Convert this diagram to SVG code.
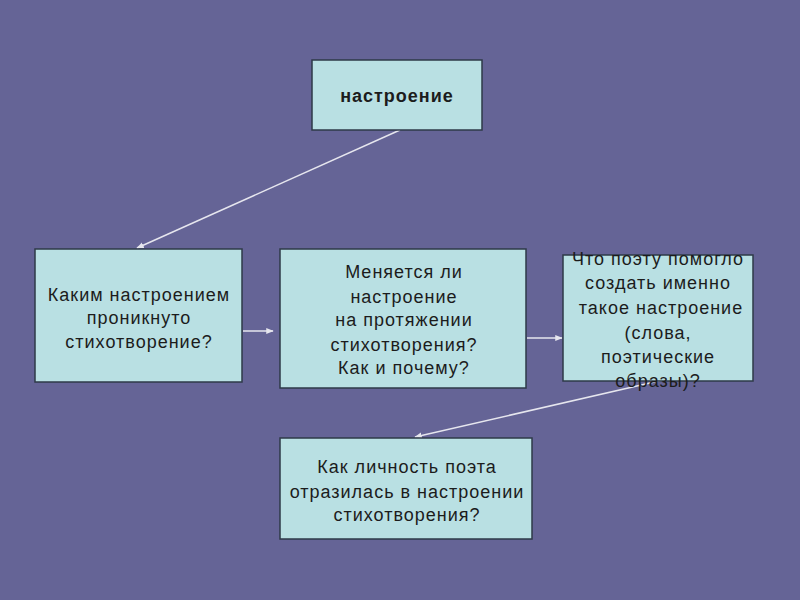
<svg xmlns="http://www.w3.org/2000/svg" width="800" height="600" viewBox="0 0 800 600">
<defs>
<style>
.box{fill:#b9e0e3;stroke:#2e3a48;stroke-width:1.5}
.t{font-family:"Liberation Sans",Arial,sans-serif;font-size:18px;letter-spacing:1px;fill:#1c1c1c;text-anchor:middle;dominant-baseline:central}
.b{font-weight:bold}
.c{stroke:#e6e6ee;stroke-width:1.5;fill:none;marker-end:url(#ah)}
</style>
<marker id="ah" viewBox="0 0 10 10" refX="9" refY="5" markerWidth="5" markerHeight="5" orient="auto" markerUnits="strokeWidth">
<path d="M0,1 L10,5 L0,9 z" fill="#e6e6ee"/>
</marker>
</defs>
<rect width="800" height="600" fill="#656496"/>
<g id="connectors">
<line class="c" x1="400" y1="130" x2="137" y2="248"/>
<line class="c" x1="243" y1="331" x2="273" y2="331"/>
<line class="c" x1="527" y1="338" x2="562" y2="338"/>
<line class="c" x1="663" y1="380" x2="415" y2="437"/>
</g>
<g id="n1">
<rect class="box" x="312" y="60" width="170" height="70"/>
<text class="t b" x="397" y="96">настроение</text>
</g>
<g id="n2">
<rect class="box" x="35" y="249" width="207" height="133"/>
<text class="t" x="139" y="295">Каким настроением</text>
<text class="t" x="139" y="318">проникнуто</text>
<text class="t" x="139" y="342">стихотворение?</text>
</g>
<g id="n3">
<rect class="box" x="280" y="249" width="246" height="139"/>
<text class="t" x="404" y="272">Меняется ли</text>
<text class="t" x="404" y="297">настроение</text>
<text class="t" x="404" y="320">на протяжении</text>
<text class="t" x="404" y="345">стихотворения?</text>
<text class="t" x="404" y="368">Как и почему?</text>
</g>
<g id="n4">
<rect class="box" x="563" y="255" width="190" height="126"/>
<text class="t" x="658" y="259">Что поэту помогло</text>
<text class="t" x="658" y="283">создать именно</text>
<text class="t" x="661" y="308">такое настроение</text>
<text class="t" x="658" y="333">(слова,</text>
<text class="t" x="658" y="357">поэтические</text>
<text class="t" x="658" y="381">образы)?</text>
</g>
<g id="n5">
<rect class="box" x="280" y="438" width="252" height="101"/>
<text class="t" x="407" y="467">Как личность поэта</text>
<text class="t" x="407" y="492">отразилась в настроении</text>
<text class="t" x="407" y="515">стихотворения?</text>
</g>
</svg>
